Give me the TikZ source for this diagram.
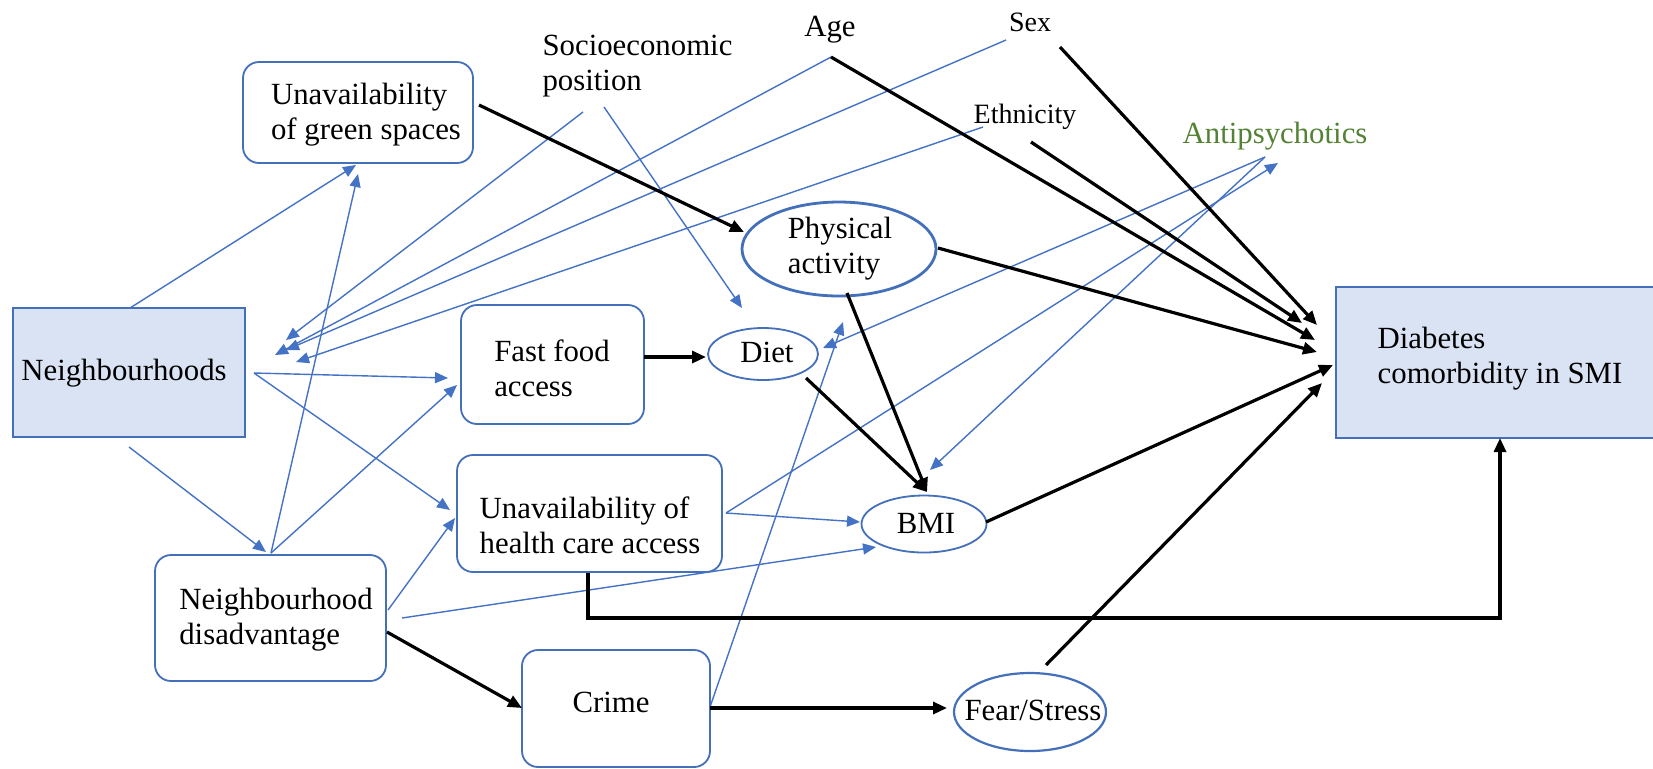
\documentclass[tikz,border=0pt]{standalone}
\usepackage{fontspec}
\setmainfont{Liberation Serif}
\newfontfamily\diagserif{Liberation Serif}
\usetikzlibrary{arrows.meta,shapes.geometric}
\definecolor{lnblue}{HTML}{4472C4}
\definecolor{bdblue}{HTML}{4470BA}
\definecolor{fillblue}{HTML}{DAE3F3}
\definecolor{antigreen}{HTML}{548235}
\begin{document}
\begin{tikzpicture}[x=0.5pt,y=-0.5pt,
  every node/.style={font=\diagserif\fontsize{15.4}{17.5}\selectfont, inner sep=0pt},
  rbox/.style={draw=bdblue, line width=0.9pt, rounded corners=8pt, fill=white},
  sbox/.style={draw=bdblue, line width=0.8pt, fill=fillblue},
  ell/.style={ellipse, draw=bdblue, line width=0.9pt, fill=white},
  txt/.style={align=left},
  small/.style={font=\diagserif\fontsize{14}{16}\selectfont},
  bl/.style={draw=lnblue, line width=0.7pt, -{Triangle[length=6.5pt,width=5.5pt]}},
  bk/.style={draw=black, line width=1.6pt, -{Triangle[length=7pt,width=6pt]}},
]
\useasboundingbox[fill=white] (0,0) rectangle (1653,768);

% boxes
\node[rbox, minimum width=115pt, minimum height=50.5pt] (green) at (358,112.5) {};
\node[sbox, minimum width=116pt, minimum height=64.5pt] (nbh) at (129,372.5) {};
\node[rbox, minimum width=115.5pt, minimum height=63pt] (dis) at (270.5,618) {};
\node[rbox, minimum width=91.5pt, minimum height=59.5pt] (fast) at (552.5,364.5) {};
\node[rbox, minimum width=132.5pt, minimum height=58.5pt] (hc) at (589.5,513.5) {};
\node[rbox, minimum width=94pt, minimum height=58.5pt] (crime) at (616,708.5) {};
\node[sbox, minimum width=162pt, minimum height=75.5pt] (diab) at (1498,362.5) {};
\node[ell, line width=1.4pt, minimum width=97pt, minimum height=47pt] (pa) at (839,249) {};
\node[ell, minimum width=55pt, minimum height=26pt] (diet) at (763,354) {};
\node[ell, minimum width=62.5pt, minimum height=28.5pt] (bmi) at (924,524) {};
\node[ell, line width=1.1pt, minimum width=76pt, minimum height=39pt] (fear) at (1030,712) {};

% texts
\node[txt] (greenT) at (366,114.5) {Unavailability\\of green spaces};
\node[txt] (nbhT) at (124,373) {Neighbourhoods};
\node[txt] (disT) at (276,620) {Neighbourhood\\disadvantage};
\node[txt] (fastT) at (552,368) {Fast food\\access};
\node[txt] (hcT) at (590,525) {Unavailability of\\health care access};
\node[txt] (crimeT) at (611,702) {Crime};
\node[txt] (diabT) at (1500,358.5) {Diabetes\\comorbidity in SMI};
\node[txt] (paT) at (840,248.5) {Physical\\activity};
\node[txt] (dietT) at (767,352) {Diet};
\node[txt] (bmiT) at (926,523) {BMI};
\node[txt] (fearT) at (1033,710) {Fear/Stress};

\node[txt] (socio) at (637.5,66.5) {Socioeconomic\\position};
\node (age) at (830,30) {Age};
\node[small] (sex) at (1030,22) {Sex};
\node[small] (eth) at (1025,117) {Ethnicity};
\node[text=antigreen] (anti) at (1275,136) {Antipsychotics};

% connector end points
\coordinate (nbhTop) at (130,308);
\coordinate (greenIn1) at (356,165);
\coordinate (greenIn2) at (358,174);
\coordinate (disTop) at (271,553);
\coordinate (nbhBot) at (129,447);
\coordinate (disIn) at (266,552);
\coordinate (nbhR) at (254,373);
\coordinate (fastIn1) at (448,378);
\coordinate (fastIn2) at (457,385);
\coordinate (hcIn1) at (450,510);
\coordinate (hcIn2) at (455,518);
\coordinate (disR1) at (388,610);
\coordinate (disR2) at (402,618);
\coordinate (disR3) at (387,632);
\coordinate (bmiIn1) at (876,547);
\coordinate (bmiIn2) at (860,522);
\coordinate (bmiIn3) at (930,470);
\coordinate (bmiTop) at (927,492);
\coordinate (hcR) at (726,513);
\coordinate (antiIn) at (1278,163);
\coordinate (antiOut) at (1265,157);
\coordinate (dietIn1) at (823,348);
\coordinate (dietIn2) at (742,308);
\coordinate (crimeR) at (710,707);
\coordinate (crimeR2) at (710,708);
\coordinate (paIn1) at (843,322);
\coordinate (paIn2) at (744,232);
\coordinate (socioOut1) at (604,107);
\coordinate (socioOut2) at (583,112);
\coordinate (nbhIn1) at (286,340);
\coordinate (nbhIn2) at (275,355);
\coordinate (nbhIn3) at (286,350);
\coordinate (nbhIn4) at (296,362);
\coordinate (ageOut) at (831,57);
\coordinate (sexOut1) at (1006,40);
\coordinate (sexOut2) at (1060,47);
\coordinate (ethOut1) at (983,127);
\coordinate (ethOut2) at (1031,142);
\coordinate (greenR) at (479,105);
\coordinate (fastR) at (644,357);
\coordinate (dietL) at (706,357);
\coordinate (paBot) at (847,293);
\coordinate (dietBR) at (806,378);
\coordinate (paR) at (938,248);
\coordinate (diabIn1) at (1317,352);
\coordinate (diabIn2) at (1315,340);
\coordinate (diabIn3) at (1317,325);
\coordinate (diabIn4) at (1302,323);
\coordinate (diabIn5) at (1333,365);
\coordinate (diabIn6) at (1322,383);
\coordinate (bmiR) at (986,522);
\coordinate (fearTop) at (1046,665);
\coordinate (hcBot) at (588,573);
\coordinate (elbowL) at (588,618);
\coordinate (elbowR) at (1500,618);
\coordinate (diabBot) at (1500,438);
\coordinate (fearL) at (947,708);
\coordinate (crimeL) at (522,708);

% blue connectors
\draw[bl] (nbhTop) -- (greenIn1);
\draw[bl] (disTop) -- (greenIn2);
\draw[bl] (nbhBot) -- (disIn);
\draw[bl] (nbhR) -- (fastIn1);
\draw[bl] (nbhR) -- (hcIn1);
\draw[bl] (disTop) -- (fastIn2);
\draw[bl] (disR1) -- (hcIn2);
\draw[bl] (disR2) -- (bmiIn1);
\draw[bl] (hcR) -- (bmiIn2);
\draw[bl] (hcR) -- (antiIn);
\draw[bl] (antiOut) -- (dietIn1);
\draw[bl] (antiOut) -- (bmiIn3);
\draw[bl] (crimeR) -- (paIn1);
\draw[bl] (socioOut1) -- (dietIn2);
\draw[bl] (socioOut2) -- (nbhIn1);
\draw[bl] (ageOut) -- (nbhIn2);
\draw[bl] (sexOut1) -- (nbhIn3);
\draw[bl] (ethOut1) -- (nbhIn4);

% black connectors
\draw[bk] (greenR) -- (paIn2);
\draw[bk] (fastR) -- (dietL);
\draw[bk] (paBot) -- (bmiTop);
\draw[bk] (dietBR) -- (bmiTop);
\draw[bk] (paR) -- (diabIn1);
\draw[bk] (ageOut) -- (diabIn2);
\draw[bk] (sexOut2) -- (diabIn3);
\draw[bk] (ethOut2) -- (diabIn4);
\draw[bk] (bmiR) -- (diabIn5);
\draw[bk] (fearTop) -- (diabIn6);
\draw[bk] (hcBot) -- (elbowL) -- (elbowR) -- (diabBot);
\draw[bk] (crimeR2) -- (fearL);
\draw[bk] (disR3) -- (crimeL);
\end{tikzpicture}
\end{document}
